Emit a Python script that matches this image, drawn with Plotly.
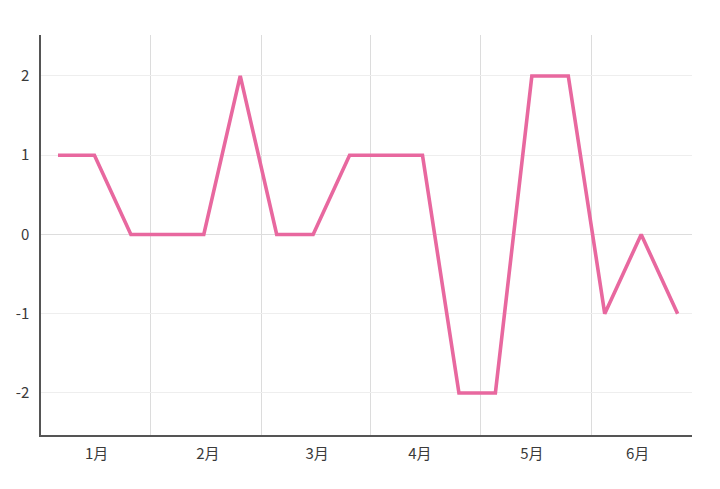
import plotly.graph_objects as go

# data
values = [1, 1, 0, 0, 0, 2, 0, 0, 1, 1, 1, -2, -2, 2, 2, -1, 0, -1]
month_labels = ["1月", "2月", "3月", "4月", "5月", "6月"]
y_ticks = [-2, -1, 0, 1, 2]

x = list(range(len(values)))

# layout positions (in data units of the index axis)
label_pos = [1.06, 4.11, 7.11, 9.93, 13.0, 15.9]
grid_pos = [2.55, 5.59, 8.57, 11.59, 14.63]

fig = go.Figure()
fig.add_trace(go.Scatter(
    x=x, y=values, mode="lines",
    line=dict(color="#e8689f", width=3.6),
    hoverinfo="skip",
))

font = dict(family="'Noto Sans CJK JP', 'Noto Sans', sans-serif", size=15, color="#3a3a3a")

fig.update_layout(
    width=720, height=489,
    margin=dict(l=33, r=36, t=27, b=62, autoexpand=False),
    paper_bgcolor="white", plot_bgcolor="white",
    showlegend=False,
    font=font,
    xaxis=dict(
        range=[-0.466, 17.394], automargin=False,
        tickmode="array", tickvals=label_pos, ticktext=month_labels,
        showgrid=False, zeroline=False,
        showline=True, linecolor="#555555", linewidth=1.5,
        ticks="", ticklabelstandoff=4,
        minor=dict(tickmode="array", tickvals=grid_pos, showgrid=True,
                   gridcolor="#dcdcdc", gridwidth=1, ticks=""),
        tickfont=font,
    ),
    yaxis=dict(
        range=[-2.53, 2.517], automargin=False,
        tickmode="array", tickvals=y_ticks, ticktext=[str(v) for v in y_ticks],
        showgrid=True, gridcolor="#eeeeee", gridwidth=1,
        zeroline=True, zerolinecolor="#dddddd", zerolinewidth=1,
        showline=True, linecolor="#555555", linewidth=1.5,
        ticks="", ticklabelstandoff=7,
        tickfont=font,
    ),
)

fig.write_html("out.html")
